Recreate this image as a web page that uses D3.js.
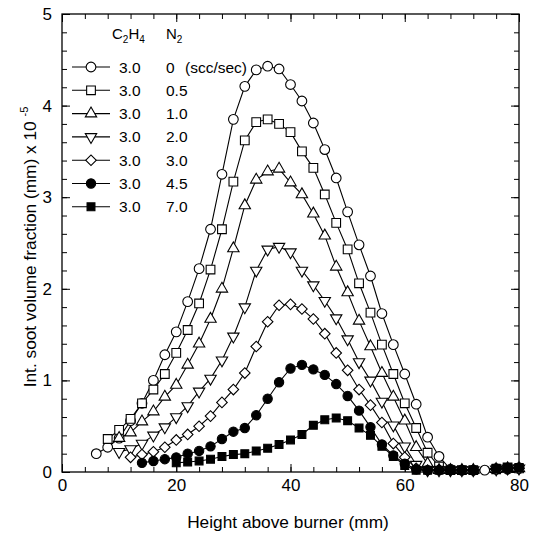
<!DOCTYPE html>
<html>
<head>
<meta charset="utf-8">
<script src="https://cdn.jsdelivr.net/npm/d3@7"></script>
<style>
  body { margin: 0; background: #fff; }
  text { font-family: "Liberation Sans", Arial, sans-serif; fill: #000; }
</style>
</head>
<body>
<svg width="534" height="535"></svg>
<script>
// x = height above burner (mm), y = int. soot volume fraction (x 1e-5 mm)
const n2_0 = [[6,0.20],[8,0.27],[10,0.37],[12,0.56],[14,0.75],[16,1.00],[18,1.28],[20,1.53],[22,1.86],[24,2.22],
  [26,2.65],[28,3.25],[30,3.85],[32,4.21],[34,4.39],[36,4.43],[38,4.40],[40,4.23],[42,4.05],[44,3.81],[46,3.52],
  [48,3.21],[50,2.84],[52,2.48],[54,2.14],[56,1.73],[58,1.39],[60,1.07],[62,0.74],[64,0.38],[66,0.17],[68,0.03],
  [70,0.02],[72,0.02],[74,0.02],[76,0.03],[78,0.03],[80,0.04]];
const n2_05 = [[8,0.36],[10,0.46],[12,0.58],[14,0.75],[16,0.90],[18,1.07],[20,1.30],[22,1.55],[24,1.84],[26,2.21],
  [28,2.65],[30,3.17],[32,3.62],[34,3.82],[36,3.85],[38,3.80],[40,3.71],[42,3.50],[44,3.32],[46,3.03],[48,2.72],
  [50,2.43],[52,2.06],[54,1.74],[56,1.39],[58,1.07],[60,0.75],[62,0.48],[64,0.21],[66,0.06],[68,0.02],[70,0.02],
  [72,0.02],[76,0.03],[78,0.05],[80,0.04]];
const n2_1 = [[10,0.37],[12,0.43],[14,0.55],[16,0.66],[18,0.82],[20,0.95],[22,1.17],[24,1.40],[26,1.67],[28,2.00],
  [30,2.44],[32,2.91],[34,3.19],[36,3.28],[38,3.31],[40,3.16],[42,3.03],[44,2.82],[46,2.58],[48,2.24],[50,1.96],
  [52,1.65],[54,1.37],[56,1.08],[58,0.82],[60,0.56],[62,0.27],[64,0.09],[66,0.02],[68,0.02],[70,0.02],[72,0.02],
  [76,0.03],[78,0.04],[80,0.04]];
const n2_2 = [[10,0.22],[12,0.25],[14,0.31],[16,0.40],[18,0.49],[20,0.60],[22,0.72],[24,0.88],[26,1.02],[28,1.22],
  [30,1.48],[32,1.80],[34,2.20],[36,2.43],[38,2.46],[40,2.40],[42,2.20],[44,2.04],[46,1.87],[48,1.68],[50,1.45],
  [52,1.20],[54,1.00],[56,0.77],[58,0.51],[60,0.28],[62,0.08],[64,0.02],[66,0.02],[68,0.02],[70,0.02],[72,0.02],
  [76,0.03],[78,0.04],[80,0.04]];
const n2_3 = [[12,0.16],[14,0.19],[16,0.22],[18,0.27],[20,0.35],[22,0.41],[24,0.50],[26,0.61],[28,0.76],[30,0.90],
  [32,1.08],[34,1.37],[36,1.64],[38,1.82],[40,1.83],[42,1.78],[44,1.67],[46,1.51],[48,1.30],[50,1.11],[52,0.90],
  [54,0.73],[56,0.54],[58,0.31],[60,0.16],[62,0.04],[64,0.02],[66,0.02],[68,0.02],[70,0.02],[72,0.02],
  [76,0.03],[78,0.04],[80,0.04]];
const n2_45 = [[14,0.10],[16,0.12],[18,0.14],[20,0.16],[22,0.20],[24,0.23],[26,0.28],[28,0.36],[30,0.44],[32,0.48],
  [34,0.62],[36,0.80],[38,0.98],[40,1.13],[42,1.17],[44,1.12],[46,1.06],[48,0.96],[50,0.83],[52,0.67],[54,0.49],
  [56,0.30],[58,0.18],[60,0.09],[62,0.03],[64,0.02],[66,0.02],[68,0.02],[70,0.02],[72,0.02],
  [76,0.04],[78,0.04],[80,0.05]];
const n2_7 = [[20,0.10],[22,0.11],[24,0.12],[26,0.14],[28,0.17],[30,0.19],[32,0.20],[34,0.23],[36,0.26],[38,0.30],
  [40,0.35],[42,0.41],[44,0.51],[46,0.57],[48,0.59],[50,0.56],[52,0.48],[54,0.40],[56,0.28],[58,0.17],[60,0.07],
  [62,0.02],[64,0.02],[66,0.02],[68,0.02],[70,0.02],[72,0.02],[76,0.04],[78,0.05],[80,0.05]];

const c2h4Flow = ["3.0", "3.0", "3.0", "3.0", "3.0", "3.0", "3.0"];
const n2Flow = ["0", "0.5", "1.0", "2.0", "3.0", "4.5", "7.0"];
const xTicks = [0, 20, 40, 60, 80];
const yTicks = [0, 1, 2, 3, 4, 5];

const allSeries = [n2_0, n2_05, n2_1, n2_2, n2_3, n2_45, n2_7];
// marker style per series
const markers = [
  { type: d3.symbolCircle, size: 74, rot: 0, fill: "#fff" },
  { type: d3.symbolSquare, size: 76, rot: 0, fill: "#fff" },
  { type: d3.symbolTriangle, size: 56, rot: 0, fill: "#fff" },
  { type: d3.symbolTriangle, size: 56, rot: 180, fill: "#fff" },
  { type: d3.symbolSquare, size: 56, rot: 45, fill: "#fff" },
  { type: d3.symbolCircle, size: 68, rot: 0, fill: "#000" },
  { type: d3.symbolSquare, size: 62, rot: 0, fill: "#000" }
];

const svg = d3.select("svg");
const plotL = 62, plotR = 519, plotT = 14, plotB = 472;

const x = d3.scaleLinear().domain([0, 80]).range([plotL, plotR]);
const y = d3.scaleLinear().domain([0, 5]).range([plotB, plotT]);

const minorX = d3.range(0, 81, 4);
const minorY = d3.range(0, 5.01, 0.2).map(d => +d.toFixed(1));

function styleAxis(g) {
  g.select(".domain").remove();
  g.selectAll("line").attr("stroke", "#000").attr("stroke-width", 1);
}

// minor ticks
svg.append("g").attr("transform", `translate(0,${plotB})`)
  .call(d3.axisBottom(x).tickValues(minorX).tickSize(-5).tickFormat("")).call(styleAxis);
svg.append("g").attr("transform", `translate(0,${plotT})`)
  .call(d3.axisTop(x).tickValues(minorX).tickSize(-5).tickFormat("")).call(styleAxis);
svg.append("g").attr("transform", `translate(${plotL},0)`)
  .call(d3.axisLeft(y).tickValues(minorY).tickSize(-5).tickFormat("")).call(styleAxis);
svg.append("g").attr("transform", `translate(${plotR},0)`)
  .call(d3.axisRight(y).tickValues(minorY).tickSize(-5).tickFormat("")).call(styleAxis);

// major ticks with labels
const xAxis = svg.append("g").attr("transform", `translate(0,${plotB})`)
  .call(d3.axisBottom(x).tickValues(xTicks).tickFormat(d3.format("d"))
    .tickSizeInner(-8).tickSizeOuter(0).tickPadding(7))
  .call(styleAxis);
xAxis.selectAll("text").attr("font-size", 17).attr("font-family", null);
svg.append("g").attr("transform", `translate(0,${plotT})`)
  .call(d3.axisTop(x).tickValues(xTicks).tickSize(-8).tickFormat("")).call(styleAxis);
const yAxis = svg.append("g").attr("transform", `translate(${plotL},0)`)
  .call(d3.axisLeft(y).tickValues(yTicks).tickFormat(d3.format("d"))
    .tickSizeInner(-8).tickSizeOuter(0).tickPadding(10))
  .call(styleAxis);
yAxis.selectAll("text").attr("font-size", 17).attr("font-family", null);
svg.append("g").attr("transform", `translate(${plotR},0)`)
  .call(d3.axisRight(y).tickValues(yTicks).tickSize(-8).tickFormat("")).call(styleAxis);

svg.append("rect")
  .attr("x", plotL).attr("y", plotT)
  .attr("width", plotR - plotL).attr("height", plotB - plotT)
  .attr("fill", "none").attr("stroke", "#000").attr("stroke-width", 1.3);

// axis titles
svg.append("text")
  .attr("x", 288).attr("y", 528)
  .attr("text-anchor", "middle").attr("font-size", 17.3)
  .text("Height above burner (mm)");

const yTitle = svg.append("text")
  .attr("transform", "translate(36,247) rotate(-90)")
  .attr("text-anchor", "middle").attr("font-size", 17.3);
yTitle.append("tspan").text("Int. soot volume fraction (mm) x 10 ");
yTitle.append("tspan").attr("font-size", 11).attr("dy", -8).text("-5");

// curves
const line = d3.line().x(d => x(d[0])).y(d => y(d[1]));

svg.append("g").selectAll("path")
  .data(allSeries)
  .join("path")
  .attr("d", line)
  .attr("fill", "none")
  .attr("stroke", "#000")
  .attr("stroke-width", 1.1);

allSeries.forEach((s, i) => {
  const m = markers[i];
  const sym = d3.symbol().type(m.type).size(m.size);
  svg.append("g").selectAll("path")
    .data(s)
    .join("path")
    .attr("d", sym)
    .attr("transform", d => `translate(${x(d[0])},${y(d[1])}) rotate(${m.rot})`)
    .attr("fill", m.fill)
    .attr("stroke", "#000")
    .attr("stroke-width", 1.1);
});

// legend
const legend = svg.append("g");
const hdr = legend.append("text").attr("x", 112).attr("y", 39).attr("font-size", 15);
hdr.append("tspan").text("C");
hdr.append("tspan").attr("font-size", 10).attr("dy", 4).text("2");
hdr.append("tspan").attr("dy", -4).text("H");
hdr.append("tspan").attr("font-size", 10).attr("dy", 4).text("4");
const hdr2 = legend.append("text").attr("x", 166).attr("y", 39).attr("font-size", 15);
hdr2.append("tspan").text("N");
hdr2.append("tspan").attr("font-size", 10).attr("dy", 4).text("2");

n2Flow.forEach((v, i) => {
  const ry = 67 + i * 23.3;
  const m = markers[i];
  legend.append("line")
    .attr("x1", 72).attr("x2", 110).attr("y1", ry).attr("y2", ry)
    .attr("stroke", "#000").attr("stroke-width", 1.1);
  legend.append("path")
    .attr("d", d3.symbol().type(m.type).size(m.size))
    .attr("transform", `translate(91,${ry}) rotate(${m.rot})`)
    .attr("fill", m.fill).attr("stroke", "#000").attr("stroke-width", 1.1);
  legend.append("text").attr("x", 119).attr("y", ry + 5.5).attr("font-size", 15.5).text(c2h4Flow[i]);
  legend.append("text").attr("x", 166).attr("y", ry + 5.5).attr("font-size", 15.5).text(v);
});
legend.append("text").attr("x", 185).attr("y", 67 + 5.5).attr("font-size", 15.5).text("(scc/sec)");
</script>
</body>
</html>
